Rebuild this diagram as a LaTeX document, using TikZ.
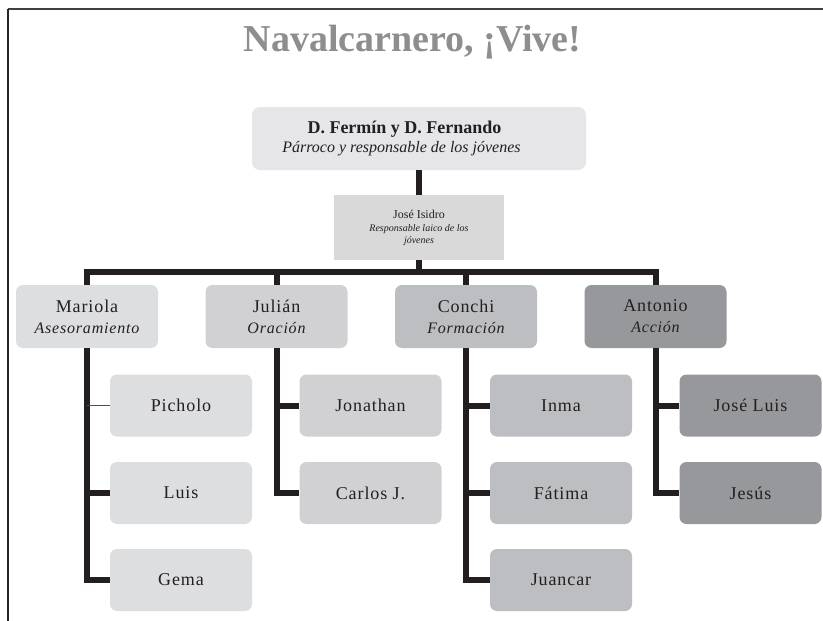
\documentclass[tikz,border=0pt]{standalone}
\usepackage{fontspec}
\setmainfont{Liberation Serif}
\newfontfamily\spc[LetterSpace=5]{Liberation Serif}
\newcommand\subtxt{\itshape\fontsize{16}{21}\selectfont}
\definecolor{ink}{HTML}{231F20}
\definecolor{titlegray}{HTML}{8E8E8E}
\definecolor{ctop}{HTML}{E6E6E8}
\definecolor{cjose}{HTML}{D9D9DA}
\definecolor{cmar}{HTML}{DDDEE0}
\definecolor{cjul}{HTML}{D1D1D3}
\definecolor{ccon}{HTML}{BDBEC1}
\definecolor{cant}{HTML}{97989B}
\tikzset{
  box/.style={rounded corners=7pt, minimum width=142pt, inner sep=0pt, align=center, text=ink},
  lvtwo/.style={box, minimum height=63pt, font=\spc\fontsize{18}{21}\selectfont},
  kid/.style={box, minimum height=62pt, font=\spc\fontsize{18}{21}\selectfont},
  conn/.style={draw=ink, line width=6pt, line join=miter}
}
\begin{document}
\begin{tikzpicture}[x=1pt,y=-1pt]
\useasboundingbox (0,0) rectangle (823,621);
\fill[white] (0,0) rectangle (823,621);
% frame
\coordinate (fc) at (8,9);
\coordinate (fr) at (823,9);
\coordinate (fb) at (8,621);
\draw[draw=black!75, line width=2pt] (fc) -- (fr);
\draw[draw=black!85, line width=1.5pt] (fc) -- (fb);
% title
\node[anchor=base, text=titlegray, font=\bfseries\fontsize{38}{40}\selectfont, inner sep=0pt] (title) at (412.5,52) {Navalcarnero, ¡Vive!};
% top box
\node[fill=ctop, rounded corners=8pt, minimum width=334pt, minimum height=63pt, inner sep=0pt] (top) at (419,138.5) {};
\node[anchor=base, inner sep=0pt, text=ink, font=\bfseries\fontsize{18}{20}\selectfont] (topa) at (404.5,133) {D. Fermín y D. Fernando};
\node[anchor=base, inner sep=0pt, text=ink, font=\itshape\fontsize{16}{20}\selectfont] (topb) at (401.5,152) {Párroco y responsable de los jóvenes};
% jose isidro
\node[fill=cjose, minimum width=170pt, minimum height=65pt, inner sep=0pt, align=center, text=ink] (jose) at (419,227.5)
  {{\fontsize{12}{14.5}\selectfont José Isidro}\\[1pt]{\itshape\fontsize{10}{14}\selectfont Responsable laico de los}\\{\itshape\fontsize{10}{14}\selectfont jóvenes}};
% level two
\node[lvtwo, fill=cmar] (mar) at (87,316.5) {Mariola\\{\subtxt Asesoramiento}};
\node[lvtwo, fill=cjul] (jul) at (276.5,316.5) {Julián\\{\subtxt Oración}};
\node[lvtwo, fill=ccon] (con) at (466,316.5) {Conchi\\{\subtxt Formación}};
\node[lvtwo, fill=cant] (ant) at (655.5,316.5) {Antonio\\{\subtxt Acción}};
% kids
\node[kid, fill=cmar] (pic) at (181,405.5) {Picholo};
\node[kid, fill=cmar] (lui) at (181,493) {Luis};
\node[kid, fill=cmar] (gem) at (181,580) {Gema};
\node[kid, fill=cjul] (jon) at (370.5,405.5) {Jonathan};
\node[kid, fill=cjul] (car) at (370.5,493) {Carlos J.};
\node[kid, fill=ccon] (inm) at (561,405.5) {Inma};
\node[kid, fill=ccon] (fat) at (561,493) {Fátima};
\node[kid, fill=ccon] (jua) at (561,580) {Juancar};
\node[kid, fill=cant] (jol) at (750.5,405.5) {José Luis};
\node[kid, fill=cant] (jes) at (750.5,493) {Jesús};
% connectors
\coordinate (bar) at (419,272);
\draw[conn] (top.south) -- (jose.north);
\draw[conn] (jose.south) -- (bar);
\draw[conn] (mar.north) |- (bar) -| (ant.north);
\draw[conn] (jul.north) -- (jul.north |- bar);
\draw[conn] (con.north) -- (con.north |- bar);
\draw[conn] (mar.south) |- (gem.west);
\draw[conn] (mar.south |- lui.west) -- (lui.west);
\draw[draw=black!70, line width=1.2pt] (mar.south |- pic.west) -- (pic.west);
\draw[conn] (jul.south) |- (car.west);
\draw[conn] (jul.south |- jon.west) -- (jon.west);
\draw[conn] (con.south) |- (jua.west);
\draw[conn] (con.south |- inm.west) -- (inm.west);
\draw[conn] (con.south |- fat.west) -- (fat.west);
\draw[conn] (ant.south) |- (jes.west);
\draw[conn] (ant.south |- jol.west) -- (jol.west);
\end{tikzpicture}
\end{document}
